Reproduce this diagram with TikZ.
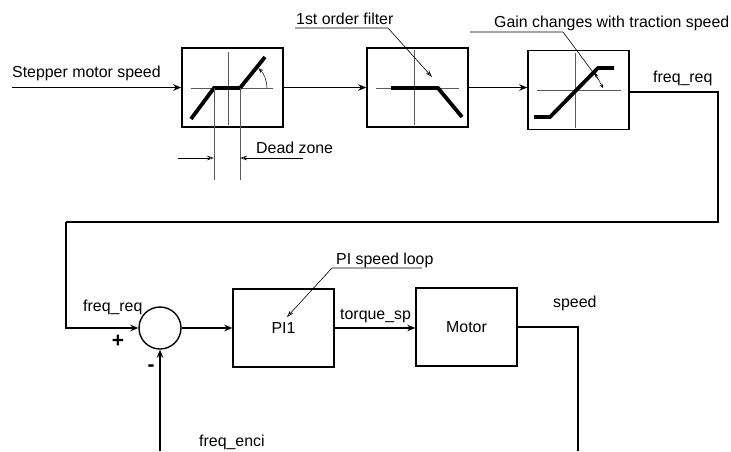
\documentclass[tikz,border=0pt]{standalone}
\usepackage{fontspec}
\setmainfont{Liberation Sans}
\usetikzlibrary{positioning,arrows.meta,calc}
\newcommand\lbltext{\fontsize{15.9}{18}\selectfont}
\newcommand\signtext{\fontsize{21}{24}\selectfont}
\tikzset{
  >={Stealth[length=8pt,width=6.5pt]},
  blk/.style={draw,line width=1.6pt,minimum width=101pt,minimum height=79pt,
    inner sep=0pt},
  loopbox/.style={draw,line width=1.4pt,minimum width=101pt,minimum height=78pt,
    inner sep=0pt,font=\lbltext},
  sumc/.style={circle,draw,line width=1.4pt,minimum size=42pt,inner sep=0pt},
  sig/.style={line width=1.3pt},
  flow/.style={->,line width=1.3pt},
  axis/.style={line width=0.8pt,black!65},
  curve/.style={line width=3.8pt},
  leadline/.style={line width=0.6pt},
  leader/.style={leadline,-{Stealth[open,length=7pt,width=4.5pt]}},
  tiny/.style={line width=0.5pt},
  lbl/.style={font=\lbltext,inner sep=0pt},
  sign/.style={font=\signtext,inner sep=0pt},
}

\begin{document}
\begin{tikzpicture}[x=1pt,y=-1pt]
  \useasboundingbox (0,0) rectangle (731,451);
  % upper chain
  \node[blk] (dz) at (232.5,87.5) {};
  \node[blk] (flt) at (417.5,87.5) {};
  \node[blk] (gain) at (578.5,90) {};
  \coordinate (in) at (12,87.5);
  \node[lbl,anchor=base west] (inlbl) at (12,77) {Stepper motor speed};
  \draw[flow] (in) -- (dz);
  \draw[flow] (dz) -- (flt);
  \draw[flow] (flt.east) -- (flt.east -| gain.west);

  % dead zone characteristic
  \draw[axis] (191,88) -- (273,88);
  \draw[axis] (228,52) -- (228,125);
  \draw[curve] (191,119) -- (214,88) -- (240,88) -- (265,57);
  \draw[tiny,-{Stealth[open,length=5pt,width=4pt]}]
    (267,88) arc[start angle=0,end angle=-47,radius=27];
  \draw[axis] (214,88) -- (214,180);
  \draw[axis] (240,88) -- (240,180);
  \coordinate (dzl) at (214,158);
  \coordinate (dzr) at (240,158);
  \draw[leader] (178,158) -- (dzl);
  \draw[leader] (303,158) -- (dzr);
  \node[lbl,anchor=base west] (dzlbl) at (256,153) {Dead zone};

  % filter characteristic
  \draw[axis] (376,88) -- (459,88);
  \draw[axis] (414,50) -- (414,125);
  \draw[curve] (391,88) -- (438,88) -- (462,117);
  \node[lbl,anchor=base west] (fltlbl) at (296,24) {1st order filter};
  \draw[leader] (295,28) -- (388,28) -- (432,77);

  % gain characteristic
  \draw[axis] (537,90) -- (621,90);
  \draw[axis] (575,53) -- (575,128);
  \draw[curve] (534,117) -- (550,117) -- (598,68) -- (614,68);
  \draw[tiny,{Stealth[open,length=4pt,width=3.5pt]}-{Stealth[open,length=4pt,width=3.5pt]}]
    (595,73) -- (603,88);
  \node[lbl,anchor=base west] (gainlbl) at (494,27) {Gain changes with traction speed};
  \draw[leadline] (470,32) -- (563,32) -- (598,79);

  % speed loop
  \node[sumc] (sum) at (160,328) {};
  \node[loopbox] (pi) at (283.5,328) {PI1};
  \node[loopbox] (mot) at (466.5,327) {Motor};
  \coordinate (c1) at (718,92);
  \coordinate (c2) at (718,222);
  \coordinate (c3) at (66,222);
  \draw[sig] (gain.east |- c1) -- (c1) -- (c2) -- (c3);
  \draw[flow] (c3) |- (sum.west);
  \node[lbl,anchor=base west] at (653,82) {freq\_req};
  \node[lbl,anchor=base west] at (83,311) {freq\_req};
  \node[sign] at (118,341) {\textbf{+}};
  \node[sign] at (151,368) {\textbf{-}};
  \draw[flow] (sum) -- (pi);
  \draw[flow] (pi.east) -- (pi.east -| mot.west);
  \node[lbl,anchor=base west] at (340,319) {torque\_sp};
  \node[lbl,anchor=base west] (pilbl) at (336,264) {PI speed loop};
  \draw[leader] (422,268) -- (332,268) -- (287,317);
  \node[lbl,anchor=base west] at (553,307) {speed};
  \coordinate (spd) at (578,451);
  \draw[sig] (mot.east) -| (spd);
  \coordinate (fb) at (160,451);
  \draw[flow] (fb) -- (sum);
  \node[lbl,anchor=base west] at (199,446) {freq\_enci};
\end{tikzpicture}
\end{document}
